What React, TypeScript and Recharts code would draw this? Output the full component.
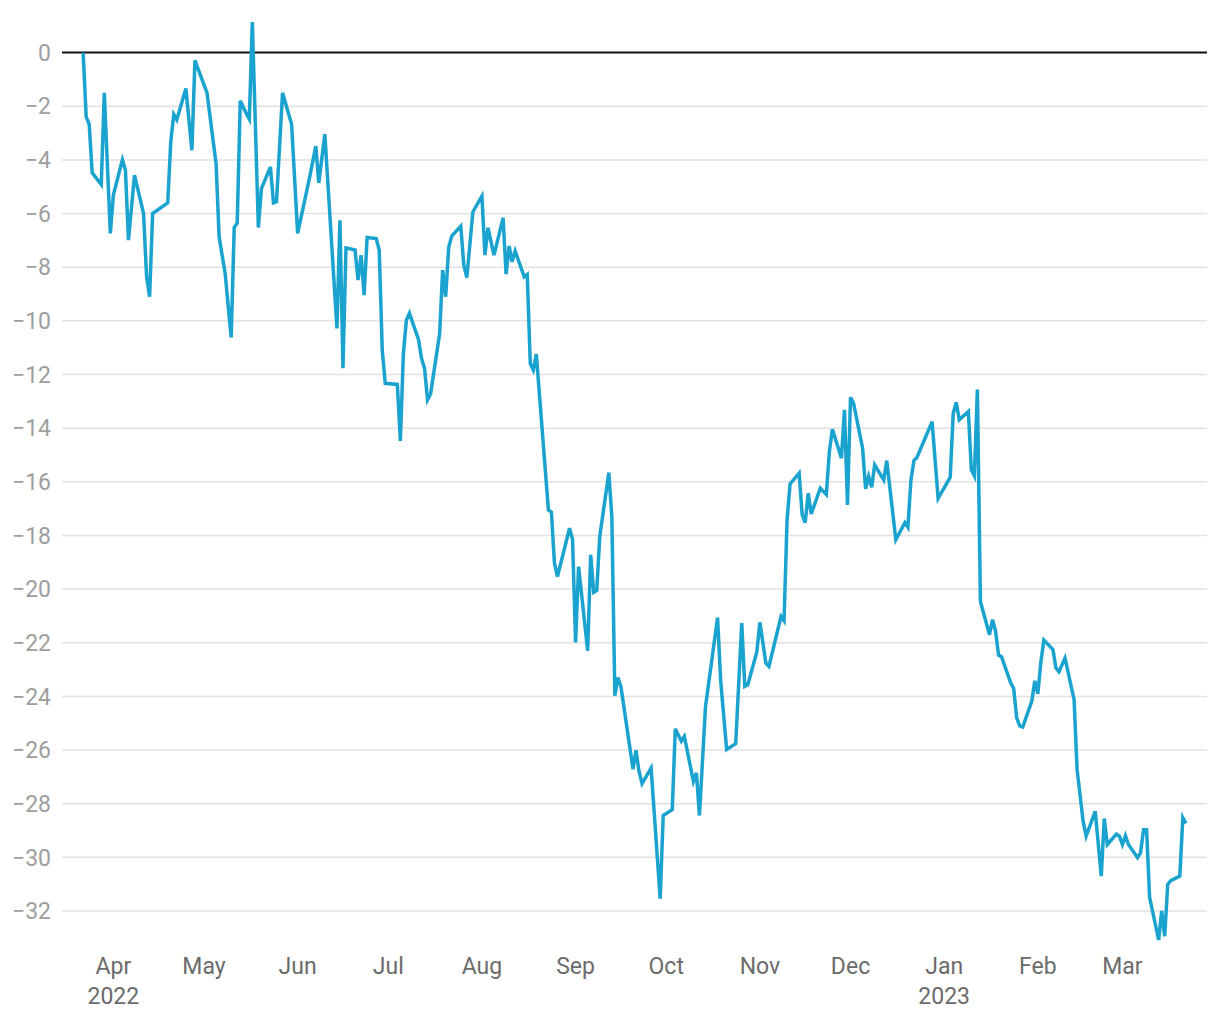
import React from "react";
import { LineChart, Line, XAxis, YAxis, ReferenceLine } from "recharts";

// trading days (irregular gaps are in the source)
const dates = [
  "2022-03-22", "2022-03-23", "2022-03-24", "2022-03-25", "2022-03-28", "2022-03-29", "2022-03-31",
  "2022-04-01", "2022-04-04", "2022-04-05", "2022-04-06", "2022-04-08", "2022-04-11", "2022-04-12",
  "2022-04-13", "2022-04-14", "2022-04-19", "2022-04-20", "2022-04-21", "2022-04-22", "2022-04-25",
  "2022-04-27", "2022-04-28",
  "2022-05-02", "2022-05-04", "2022-05-05", "2022-05-06", "2022-05-08", "2022-05-10", "2022-05-11",
  "2022-05-12", "2022-05-13", "2022-05-15", "2022-05-16", "2022-05-17", "2022-05-19", "2022-05-20",
  "2022-05-23", "2022-05-24", "2022-05-25", "2022-05-27", "2022-05-30",
  "2022-06-01", "2022-06-05", "2022-06-07", "2022-06-08", "2022-06-10", "2022-06-14", "2022-06-15",
  "2022-06-16", "2022-06-17", "2022-06-20", "2022-06-21", "2022-06-22", "2022-06-23", "2022-06-24",
  "2022-06-27", "2022-06-28", "2022-06-29", "2022-06-30",
  "2022-07-04", "2022-07-05", "2022-07-06", "2022-07-07", "2022-07-08", "2022-07-11", "2022-07-12",
  "2022-07-13", "2022-07-14", "2022-07-15", "2022-07-18", "2022-07-19", "2022-07-20", "2022-07-21",
  "2022-07-22", "2022-07-25", "2022-07-26", "2022-07-27", "2022-07-29",
  "2022-08-01", "2022-08-02", "2022-08-03", "2022-08-05", "2022-08-08", "2022-08-09", "2022-08-10",
  "2022-08-11", "2022-08-12", "2022-08-15", "2022-08-16", "2022-08-17", "2022-08-18", "2022-08-19",
  "2022-08-23", "2022-08-24", "2022-08-25", "2022-08-26", "2022-08-30", "2022-08-31",
  "2022-09-01", "2022-09-02", "2022-09-05", "2022-09-06", "2022-09-07", "2022-09-08", "2022-09-09",
  "2022-09-12", "2022-09-13", "2022-09-14", "2022-09-15", "2022-09-16", "2022-09-20", "2022-09-21",
  "2022-09-22", "2022-09-23", "2022-09-26", "2022-09-29", "2022-09-30",
  "2022-10-03", "2022-10-04", "2022-10-06", "2022-10-07", "2022-10-10", "2022-10-11", "2022-10-12",
  "2022-10-14", "2022-10-18", "2022-10-19", "2022-10-21", "2022-10-24", "2022-10-26", "2022-10-27",
  "2022-10-28", "2022-10-31",
  "2022-11-01", "2022-11-03", "2022-11-04", "2022-11-08", "2022-11-09", "2022-11-10", "2022-11-11",
  "2022-11-14", "2022-11-15", "2022-11-16", "2022-11-17", "2022-11-18", "2022-11-21", "2022-11-23",
  "2022-11-24", "2022-11-25", "2022-11-28", "2022-11-29", "2022-11-30",
  "2022-12-01", "2022-12-02", "2022-12-05", "2022-12-06", "2022-12-07", "2022-12-08", "2022-12-09",
  "2022-12-12", "2022-12-13", "2022-12-16", "2022-12-19", "2022-12-20", "2022-12-21", "2022-12-22",
  "2022-12-23", "2022-12-28", "2022-12-30",
  "2023-01-03", "2023-01-04", "2023-01-05", "2023-01-06", "2023-01-09", "2023-01-10", "2023-01-11",
  "2023-01-12", "2023-01-13", "2023-01-16", "2023-01-17", "2023-01-18", "2023-01-19", "2023-01-20",
  "2023-01-23", "2023-01-24", "2023-01-25", "2023-01-26", "2023-01-27", "2023-01-30", "2023-01-31",
  "2023-02-01", "2023-02-02", "2023-02-03", "2023-02-06", "2023-02-07", "2023-02-08", "2023-02-10",
  "2023-02-13", "2023-02-14", "2023-02-16", "2023-02-17", "2023-02-20", "2023-02-22", "2023-02-23",
  "2023-02-24", "2023-02-27", "2023-02-28",
  "2023-03-01", "2023-03-02", "2023-03-03", "2023-03-06", "2023-03-07", "2023-03-08", "2023-03-09",
  "2023-03-10", "2023-03-13", "2023-03-14", "2023-03-15", "2023-03-16", "2023-03-17", "2023-03-20",
  "2023-03-21", "2023-03-22",
];

const values = [
  0, -2.4, -2.67, -4.48, -4.92, -1.5, -6.74,
  -5.31, -3.99, -4.38, -6.99, -4.57, -6.0, -8.36,
  -9.1, -6.0, -5.6, -3.33, -2.3, -2.5, -1.34,
  -3.64, -0.29,
  -1.5, -3.27, -4.14, -6.87, -8.23, -10.62, -6.52,
  -6.35, -1.8, -2.27, -2.48, 1.14, -6.52, -5.07,
  -4.26, -5.6, -5.56, -1.5, -2.67,
  -6.74, -4.63, -3.49, -4.86, -3.04, -10.28, -6.25,
  -11.77, -7.28, -7.36, -8.48, -7.55, -9.04, -6.89,
  -6.93, -7.36, -11.09, -12.33,
  -12.37, -14.48, -11.21, -9.97, -9.72, -10.69, -11.4,
  -11.77, -12.95, -12.73, -10.47, -8.11, -9.1, -7.26,
  -6.84, -6.47, -7.92, -8.39, -5.94,
  -5.35, -7.55, -6.53, -7.55, -6.16, -8.26, -7.21,
  -7.8, -7.4, -8.36, -8.27, -11.59, -11.83, -11.24,
  -17.05, -17.13, -19.03, -19.53, -17.73, -18.16,
  -21.99, -19.16, -22.3, -18.72, -20.12, -20.05, -18.04,
  -15.66, -17.3, -23.97, -23.3, -23.63, -26.71, -26.01,
  -26.8, -27.25, -26.67, -31.54, -28.44,
  -28.22, -25.21, -25.67, -25.49, -27.17, -26.85, -28.44,
  -24.38, -21.06, -23.38, -25.98, -25.76, -21.27, -23.63,
  -23.57, -22.33,
  -21.24, -22.76, -22.88, -21.02, -21.18, -17.42, -16.08,
  -15.68, -17.23, -17.52, -16.43, -17.2, -16.24, -16.47,
  -14.88, -14.04, -15.12, -13.32, -16.86,
  -12.85, -13.07, -14.75, -16.26, -15.8, -16.2, -15.37,
  -15.93, -15.21, -18.16, -17.52, -17.69, -15.93, -15.21,
  -15.09, -13.76, -16.62,
  -15.83, -13.45, -13.04, -13.69, -13.38, -15.56, -15.78,
  -12.56, -20.46, -21.7, -21.14, -21.56, -22.46, -22.52,
  -23.49, -23.7, -24.8, -25.1, -25.14, -24.18, -23.42,
  -23.9, -22.73, -21.9, -22.25, -22.94, -23.08, -22.57,
  -24.11, -26.73, -28.66, -29.21, -28.28, -30.7, -28.55,
  -29.52, -29.13, -29.21,
  -29.52, -29.19, -29.52, -30.01, -29.83, -28.97, -28.97,
  -31.49, -33.08, -32.0, -32.94, -31.01, -30.87, -30.7,
  -28.52, -28.73,
];

const tickDates = [
  "2022-04-01", "2022-05-01", "2022-06-01", "2022-07-01", "2022-08-01", "2022-09-01",
  "2022-10-01", "2022-11-01", "2022-12-01", "2023-01-01", "2023-02-01", "2023-03-01",
];
const tickMonths = ["Apr", "May", "Jun", "Jul", "Aug", "Sep", "Oct", "Nov", "Dec", "Jan", "Feb", "Mar"];
const tickYears = ["2022", "", "", "", "", "", "", "", "", "2023", "", ""];

const yTicks = [0, -2, -4, -6, -8, -10, -12, -14, -16, -18, -20, -22, -24, -26, -28, -30, -32];

const xStart = "2022-03-15";
const xEnd = "2023-03-29";

const ts = (d: string) => Date.parse(d + "T00:00:00Z");

const data = dates.map((d, i) => ({ t: ts(d), value: values[i] }));
const xTicks = tickDates.map(ts);

const FONT = "Roboto, 'Noto Sans', sans-serif";

const fmtY = (v: number) => (v < 0 ? "\u2212" + Math.abs(v) : String(v));

function MonthTick(props: any) {
  const { x, y, payload } = props;
  const i = xTicks.indexOf(payload.value);
  return (
    <g transform={`translate(${x},${y})`}>
      <text textAnchor="middle" fill="#6b6b6b" fontSize={23} fontFamily={FONT}>
        <tspan x={0} dy={34}>{tickMonths[i]}</tspan>
        {tickYears[i] && (
          <tspan x={0} dy={30}>{tickYears[i]}</tspan>
        )}
      </text>
    </g>
  );
}

export default function App() {
  return (
    <div style={{ position: "absolute", left: 0, top: 0, background: "#fff" }}>
      <LineChart
        width={1220}
        height={1020}
        data={data}
        margin={{ top: 22, right: 13, bottom: 0, left: 0 }}
        style={{ fontFamily: FONT }}
      >
        <XAxis
          dataKey="t"
          type="number"
          scale="time"
          domain={[ts(xStart), ts(xEnd)]}
          ticks={xTicks}
          tick={<MonthTick />}
          tickLine={false}
          axisLine={false}
          tickSize={0}
          tickMargin={0}
          height={80}
          interval={0}
        />
        <YAxis
          type="number"
          domain={["dataMin", "dataMax"]}
          ticks={yTicks}
          tickFormatter={fmtY}
          tick={{ fill: "#9e9e9e", fontSize: 23, fontFamily: FONT }}
          tickLine={false}
          axisLine={false}
          tickSize={0}
          tickMargin={11}
          width={62}
          interval={0}
        />
        {yTicks
          .filter((v) => v !== 0)
          .map((v) => (
            <ReferenceLine key={v} y={v} stroke="#e2e2e2" strokeWidth={1.5} />
          ))}
        <ReferenceLine y={0} stroke="#111" strokeWidth={2} />
        <Line
          type="linear"
          dataKey="value"
          stroke="#1ba3cf"
          strokeWidth={3.5}
          dot={false}
          isAnimationActive={false}
        />
      </LineChart>
    </div>
  );
}
